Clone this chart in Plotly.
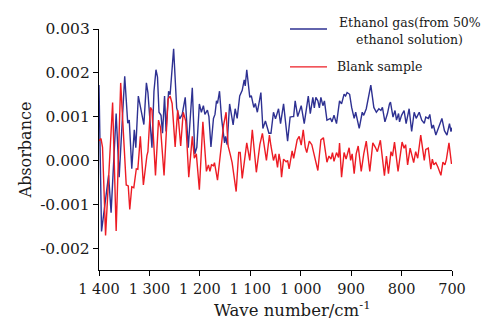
import plotly.graph_objects as go

# Ethanol gas (from 50% ethanol solution): wavenumber (cm^-1) and absorbance (x1e-3)
eth_wn = [1400, 1395, 1381, 1376, 1366, 1360, 1349, 1343, 1340, 1335, 1330, 1327, 1322, 1316, 1311,
          1306, 1303, 1295, 1291, 1287, 1284, 1281, 1277, 1274, 1270, 1267, 1262, 1259, 1252, 1246,
          1240, 1235, 1229, 1223, 1215, 1210, 1206, 1201, 1197, 1193, 1190, 1185, 1182, 1178, 1173,
          1170, 1167, 1165, 1161, 1157, 1151, 1149, 1146, 1141, 1134, 1130, 1126, 1121, 1116, 1112,
          1110, 1107, 1101, 1098, 1093, 1090, 1086, 1079, 1075, 1070, 1063, 1059, 1054, 1050, 1044,
          1040, 1034, 1026, 1021, 1017, 1014, 1011, 1006, 999, 993, 985, 981, 976, 973, 970,
          966, 963, 960, 956, 953, 948, 941, 938, 934, 929, 923, 919, 914, 911, 908,
          903, 899, 894, 891, 884, 878, 875, 870, 861, 855, 850, 845, 841, 838, 833,
          828, 824, 822, 817, 813, 810, 806, 804, 800, 795, 791, 785, 780, 775, 771,
          765, 760, 755, 752, 747, 744, 740, 737, 732, 726, 720, 715, 710, 705, 702, 700]
eth_abs = [1.72, -1.62, -0.34, -1.19, 1.07, -0.38, 1.92, 0.85, 0.92, -0.19, 0.70, 0.29, 1.47, 1.10, 0.82,
           1.77, 1.55, 0.29, 1.58, 2.07, 1.90, 1.10, 1.03, 0.62, 1.47, 0.66, 1.58, 1.50, 2.55, 1.20,
           0.95, 1.05, 1.44, 0.29, 1.66, 0.15, 0.30, 1.29, 1.10, 1.25, 1.05, 1.15, 1.00, 0.31, 0.96,
           1.05, 1.36, 1.30, 1.58, 0.96, 0.40, 0.55, 0.36, 1.29, 0.81, 1.18, 0.96, 1.47, 1.60, 1.84,
           1.70, 2.07, 1.44, 1.48, 1.21, 1.30, 1.10, 1.55, 0.73, 0.90, 0.62, 0.62, 1.10, 0.95, 1.18,
           0.84, 1.29, 0.44, 0.99, 1.00, 1.00, 1.36, 1.00, 1.25, 0.84, 1.47, 1.07, 1.44, 1.20, 1.44,
           1.36, 1.20, 1.44, 1.25, 1.36, 0.92, 0.96, 0.88, 1.03, 0.84, 1.36, 1.29, 1.51, 1.47, 1.55,
           1.51, 1.21, 0.96, 1.10, 0.73, 1.10, 1.03, 1.18, 1.72, 1.21, 1.10, 1.18, 1.14, 1.21, 0.88,
           1.07, 1.29, 1.33, 0.99, 1.14, 0.92, 1.07, 0.88, 1.03, 1.14, 0.84, 1.18, 0.66, 1.10, 0.96,
           1.10, 0.92, 0.85, 0.99, 0.96, 1.05, 0.73, 0.81, 0.58, 0.75, 0.96, 0.68, 0.58, 0.84, 0.66, 0.75]

# Blank sample
blank_wn = [1400, 1396, 1393, 1387, 1373, 1366, 1357, 1352, 1346, 1342, 1339, 1335, 1331, 1326, 1323,
            1318, 1312, 1305, 1303, 1298, 1295, 1288, 1282, 1278, 1271, 1263, 1259, 1255, 1249, 1244,
            1238, 1233, 1228, 1222, 1215, 1211, 1207, 1201, 1194, 1187, 1183, 1180, 1177, 1173, 1171,
            1165, 1157, 1153, 1148, 1144, 1140, 1136, 1128, 1123, 1120, 1116, 1107, 1101, 1096, 1088,
            1081, 1076, 1068, 1062, 1059, 1054, 1050, 1046, 1043, 1040, 1038, 1034, 1029, 1026, 1023,
            1017, 1014, 1007, 1003, 999, 995, 991, 988, 983, 978, 973, 966, 960, 955, 948,
            944, 940, 937, 934, 929, 925, 923, 919, 914, 910, 904, 901, 898, 894, 890,
            886, 880, 875, 870, 863, 857, 852, 848, 842, 834, 830, 826, 821, 818, 814,
            807, 799, 795, 792, 788, 783, 779, 776, 772, 768, 762, 755, 752, 747, 742,
            739, 736, 732, 728, 722, 718, 714, 711, 706, 701]
blank_abs = [0.45, 0.50, 0.30, -1.71, 1.32, -1.61, 1.77, 0.80, -0.56, -0.58, -1.12, -0.60, -0.62, -0.19, -0.20,
             0.55, -0.56, 0.11, 0.20, 1.21, 1.15, -0.34, 0.92, 0.75, -0.34, 1.40, 1.47, 1.30, 0.31, 1.15,
             0.33, 1.10, 0.90, -0.38, 0.55, 0.05, 0.15, -0.67, 0.88, -0.25, -0.10, -0.25, -0.10, -0.12, -0.05,
             -0.45, 0.38, 0.80, 1.10, 0.33, 0.15, -0.05, -0.71, 0.18, 0.18, -0.41, 0.40, 0.00, 0.70, -0.27,
             0.36, 0.62, 0.00, 0.58, 0.33, 0.00, 0.15, -0.16, 0.15, -0.05, -0.38, 0.03, -0.03, 0.00, -0.19,
             0.22, 0.05, 0.47, 0.55, 0.35, 0.70, 0.30, 0.18, 0.44, 0.36, 0.10, -0.23, 0.47, 0.52, -0.04,
             0.10, 0.03, 0.18, -0.02, 0.18, 0.07, 0.40, -0.38, 0.18, 0.03, 0.29, 0.00, 0.15, -0.30, 0.15,
             0.33, -0.25, 0.15, 0.44, -0.25, 0.40, 0.30, 0.20, 0.46, -0.35, 0.10, -0.30, 0.20, 0.10, 0.42,
             -0.25, 0.42, 0.28, 0.36, -0.10, 0.28, 0.05, -0.05, 0.20, 0.05, 0.58, 0.00, 0.25, 0.28, -0.20,
             0.03, -0.10, -0.05, -0.15, -0.34, -0.04, -0.10, 0.03, 0.40, -0.08]

x_ticks = [1400, 1300, 1200, 1100, 1000, 900, 800, 700]
x_tick_labels = ["1 400", "1 300", "1 200", "1 100", "1 000", "900", "800", "700"]
y_ticks = [-0.002, -0.001, 0.0, 0.001, 0.002, 0.003]
y_tick_labels = ["-0.002", "-0.001", "0.000", "0.001", "0.002", "0.003"]

legend_eth_1 = "Ethanol gas(from 50%"
legend_eth_2 = "ethanol solution)"
legend_blank = "Blank sample"
x_title = "Wave number/cm<sup>-1</sup>"
y_title = "Absorbance"

BLUE = "#2e3192"
RED = "#ed1c24"
FONT = "DejaVu Serif"
TXT = "#1a1a1a"

fig = go.Figure()
fig.add_trace(go.Scatter(x=eth_wn, y=[v / 1000 for v in eth_abs], mode="lines",
                         line=dict(color=BLUE, width=1.4), name=legend_eth_1))
fig.add_trace(go.Scatter(x=blank_wn, y=[v / 1000 for v in blank_abs], mode="lines",
                         line=dict(color=RED, width=1.4), name=legend_blank))

# legend drawn manually (lines + text)
fig.add_shape(type="line", xref="paper", yref="paper", x0=0.541, x1=0.646, y0=1.0, y1=1.0,
              line=dict(color=BLUE, width=1.4))
fig.add_shape(type="line", xref="paper", yref="paper", x0=0.541, x1=0.646, y0=0.843, y1=0.843,
              line=dict(color=RED, width=1.4))
for txt, xx, yy in [(legend_eth_1, 0.881, 1.028), (legend_eth_2, 0.881, 0.956), (legend_blank, 0.796, 0.843)]:
    fig.add_annotation(text=txt, xref="paper", yref="paper", x=xx, y=yy,
                       xanchor="center", yanchor="middle", showarrow=False,
                       font=dict(family=FONT, size=12.5, color=TXT))
fig.add_annotation(text=x_title, xref="paper", yref="paper", x=0.547, y=-0.163,
                   xanchor="center", yanchor="middle", showarrow=False,
                   font=dict(family=FONT, size=16.5, color=TXT))
fig.add_annotation(text=y_title, xref="paper", yref="paper", x=-0.207, y=0.5,
                   xanchor="center", yanchor="middle", textangle=-90, showarrow=False,
                   font=dict(family=FONT, size=16, color=TXT))

# page body has an 8px margin: figure placed at (8, 8), plot area spans x 99-452, y 22-270
fig.update_layout(
    width=482, height=317,
    margin=dict(l=91, r=38, t=14, b=55),
    paper_bgcolor="white", plot_bgcolor="white",
    showlegend=False,
    font=dict(family=FONT, size=15, color=TXT),
)
fig.update_xaxes(range=[1400, 700], tickvals=x_ticks, ticktext=x_tick_labels,
                 showline=True, linecolor="black", linewidth=1.3, ticks="outside",
                 ticklen=5, tickwidth=1.3, tickcolor="black", showgrid=False, zeroline=False,
                 tickfont=dict(family=FONT, size=14.5, color=TXT))
fig.update_yaxes(range=[-0.0025, 0.003], tickvals=y_ticks, ticktext=y_tick_labels,
                 showline=True, linecolor="black", linewidth=1.3, ticks="outside",
                 ticklen=5, tickwidth=1.3, tickcolor="black", showgrid=False, zeroline=False,
                 tickfont=dict(family=FONT, size=15.5, color=TXT))

fig.write_html("out.html")
